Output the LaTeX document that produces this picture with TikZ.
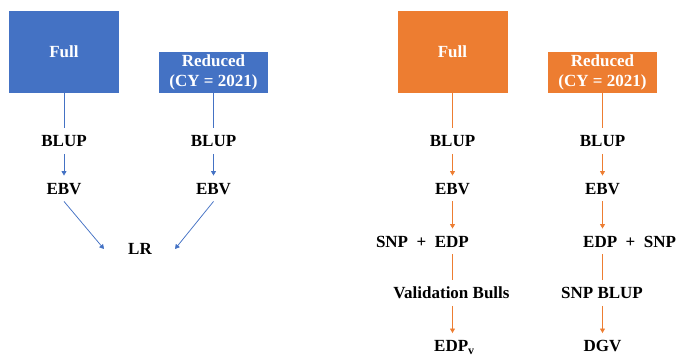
\documentclass[tikz,border=0pt]{standalone}
\usepackage{fontspec}
\setmainfont{Liberation Serif}
\usetikzlibrary{arrows.meta}
\definecolor{schemeblue}{HTML}{4472C4}
\definecolor{schemeorange}{HTML}{ED7D31}
\begin{document}
\begin{tikzpicture}[x=1pt,y=-1pt,
  box/.style={fill=#1, draw=none, text=white, inner sep=0pt, align=center,
    font=\bfseries\fontsize{17}{20}\selectfont},
  fullbox/.style={box=#1, minimum width=110pt, minimum height=82pt},
  redbox/.style={box=#1, minimum width=109pt, minimum height=41pt},
  lbl/.style={font=\bfseries\fontsize{17}{20}\selectfont, text height=11.5pt,
    text depth=0pt, inner xsep=0pt, inner ysep=7pt},
  link/.style={draw=#1, line width=0.75pt},
  arr/.style={link=#1, -{Triangle[width=5pt,length=4.5pt]}},
]
\useasboundingbox (0,0) rectangle (678,356);

% ---- left scheme: full vs reduced, compared by linear regression
\node[fullbox=schemeblue] (fullL) at (64,52) {Full};
\node[redbox=schemeblue] (redL) at (213.5,72.5) {Reduced\\(CY = 2021)};

\node[lbl] (blupL1) at (64,141) {BLUP};
\node[lbl] (ebvL1) at (64,188.5) {EBV};
\node[lbl] (blupL2) at (213.5,141) {BLUP};
\node[lbl] (ebvL2) at (213.5,188.5) {EBV};
\node[lbl] (lr) at (140,249) {LR};
\coordinate (lrinL) at ([xshift=-24pt]lr.west);
\coordinate (lrinR) at ([xshift=23pt]lr.east);

\draw[link=schemeblue] (fullL) -- (blupL1);
\draw[arr=schemeblue] (blupL1) -- (ebvL1);
\draw[link=schemeblue] (redL) -- (blupL2);
\draw[arr=schemeblue] (blupL2) -- (ebvL2);
\draw[arr=schemeblue] (ebvL1.south) -- (lrinL);
\draw[arr=schemeblue] (ebvL2.south) -- (lrinR);

% ---- right scheme: validation bulls and SNP BLUP
\node[fullbox=schemeorange] (fullR) at (452.5,52) {Full};
\node[redbox=schemeorange] (redR) at (602.5,72.5) {Reduced\\(CY = 2021)};

\node[lbl] (blupR1) at (452.5,141) {BLUP};
\node[lbl] (ebvR1) at (452.5,188.5) {EBV};
\node[lbl, anchor=east] (snpedp) at (469,241.5) {SNP\ \ +\ \ EDP};
\node[lbl] (valid) at (451.5,293) {Validation Bulls};
\node[lbl, anchor=west] (edpv) at (434,346) {EDP\textsubscript{v}};

\node[lbl] (blupR2) at (602.5,141) {BLUP};
\node[lbl] (ebvR2) at (602.5,188.5) {EBV};
\node[lbl, anchor=west] (edpsnp) at (583,241.5) {EDP\ \ +\ \ SNP};
\node[lbl] (snpblup) at (602,293) {SNP BLUP};
\node[lbl] (dgv) at (602.5,346) {DGV};

\draw[link=schemeorange] (fullR) -- (blupR1);
\draw[arr=schemeorange] (blupR1) -- (ebvR1);
\draw[arr=schemeorange] (ebvR1.south) -- (ebvR1.south |- snpedp.north);
\draw[link=schemeorange] (ebvR1.south |- snpedp.south) -- (ebvR1.south |- valid.north);
\draw[arr=schemeorange] (ebvR1.south |- valid.south) -- (ebvR1.south |- edpv.north);

\draw[link=schemeorange] (redR) -- (blupR2);
\draw[arr=schemeorange] (blupR2) -- (ebvR2);
\draw[arr=schemeorange] (ebvR2.south) -- (ebvR2.south |- edpsnp.north);
\draw[link=schemeorange] (ebvR2.south |- edpsnp.south) -- (ebvR2.south |- snpblup.north);
\draw[arr=schemeorange] (ebvR2.south |- snpblup.south) -- (dgv);
\end{tikzpicture}
\end{document}
